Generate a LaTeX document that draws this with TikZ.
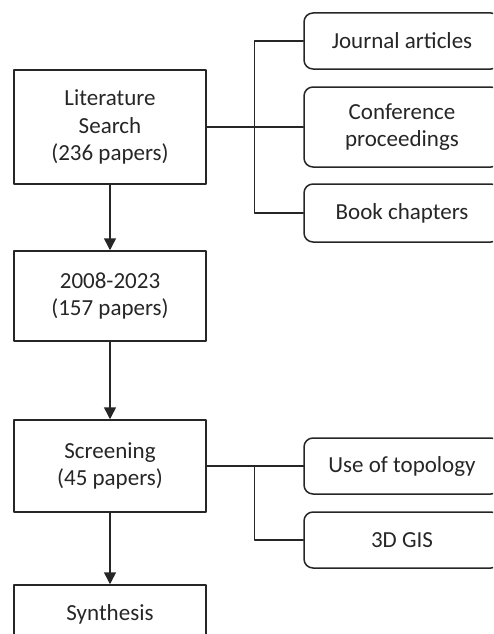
\documentclass[tikz,border=0pt]{standalone}
\usepackage{fontspec}
\setmainfont{Carlito}
\usetikzlibrary{arrows.meta}

\begin{document}
\begin{tikzpicture}[line cap=round,line join=round,>={Triangle[width=12pt,length=12pt]},x=1pt,y=1pt,
  stagebox/.style={draw=ststst,line width=1.5pt,minimum width=192pt,align=center,text=ststst,inner sep=0pt},
  sourcebox/.style={draw=ststst,line width=1.5pt,rounded corners=9pt,minimum width=196pt,align=center,text=ststst,inner sep=0pt},
  link/.style={draw=ststst,line width=1.5pt}]
\definecolor{ststst}{rgb}{0.15,0.15,0.15}
\useasboundingbox (0,0) rectangle (493,-634);
\clip (0,0) rectangle (493,-634);
\fontsize{23}{27.5}\selectfont
% main stages
\node[stagebox,minimum height=114pt] (lit) at (110,-127) {Literature\\Search\\(236 papers)};
\node[stagebox,minimum height=90pt] (range) at (110,-296) {2008-2023\\(157 papers)};
\node[stagebox,minimum height=92pt] (screen) at (110,-466) {Screening\\(45 papers)};
\node[stagebox,minimum height=58pt] (synth) at (110,-614) {Synthesis};
% sources and topics
\node[sourcebox,minimum height=56pt] (journal) at (402,-41) {Journal articles};
\node[sourcebox,minimum height=80pt] (conf) at (402,-127) {Conference\\proceedings};
\node[sourcebox,minimum height=58pt] (book) at (402,-213) {Book chapters};
\node[sourcebox,minimum height=56pt] (topo) at (402,-466) {Use of topology};
\node[sourcebox,minimum height=56pt] (gis) at (402,-540) {3D GIS};
% arrows
\draw[link,->] (lit) -- (range);
\draw[link,->] (range) -- (screen);
\draw[link,->] (screen) -- (synth);
% branches
\draw[link] (lit.east) -- (conf.west);
\draw[link] (journal.west) -- ++(-49,0) |- (book.west);
\draw[link] (screen.east) -- (topo.west);
\draw[link] (topo.west) -- ++(-49,0) |- (gis.west);
\end{tikzpicture}
\end{document}
